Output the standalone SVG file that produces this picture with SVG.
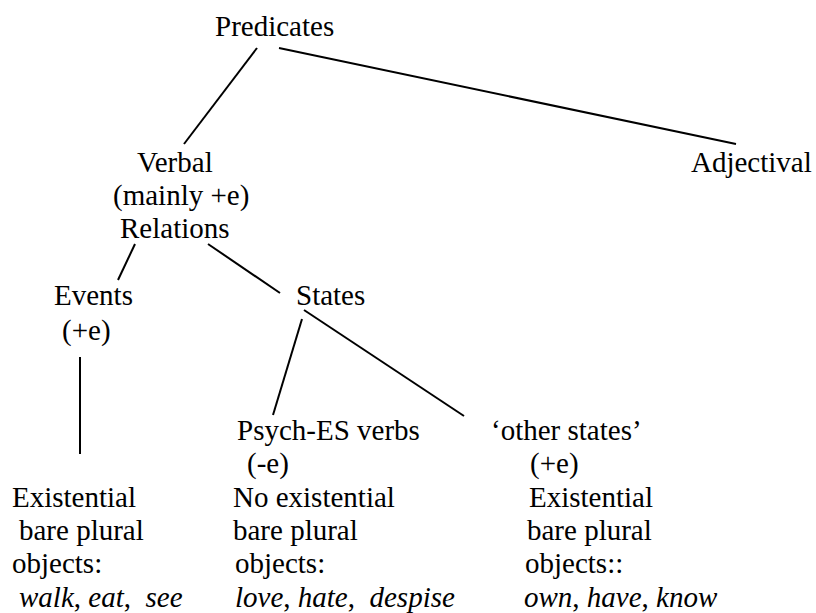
<svg xmlns="http://www.w3.org/2000/svg" width="816" height="613" viewBox="0 0 816 613">
<style>
text{font-family:"Liberation Serif","Tinos","Times New Roman","DejaVu Serif",serif;font-size:29px;fill:#000;white-space:pre}
.i{font-style:italic}
line{stroke:#000;stroke-width:2}
</style>
<rect width="816" height="613" fill="#fff"/>
<g id="connectors">
<line x1="257" y1="48" x2="184" y2="144"/>
<line x1="279" y1="48" x2="736" y2="144"/>
<line x1="135" y1="244" x2="118" y2="280"/>
<line x1="208" y1="244" x2="280" y2="293"/>
<line x1="80" y1="357" x2="80" y2="454"/>
<line x1="302" y1="319" x2="273" y2="415"/>
<line x1="304" y1="310" x2="464" y2="416"/>
</g>
<g id="predicates"><text x="215" y="36">Predicates</text></g>
<g id="verbal">
<text x="137" y="172">Verbal</text>
<text x="113" y="205">(mainly +e)</text>
<text x="120" y="238">Relations</text>
</g>
<g id="adjectival"><text x="691" y="172">Adjectival</text></g>
<g id="events">
<text x="54" y="305">Events</text>
<text x="62" y="340">(+e)</text>
</g>
<g id="states"><text x="296" y="305">States</text></g>
<g id="events-objects">
<text x="12" y="507">Existential</text>
<text x="19" y="540">bare plural</text>
<text x="12" y="573">objects:</text>
<text x="19" y="607"><tspan class="i">walk</tspan>, <tspan class="i">eat</tspan>,  <tspan class="i">see</tspan></text>
</g>
<g id="psych">
<text x="237" y="440">Psych-ES verbs</text>
<text x="247" y="473">(-e)</text>
<text x="233" y="507">No existential</text>
<text x="233" y="540">bare plural</text>
<text x="235" y="573">objects:</text>
<text x="235" y="607"><tspan class="i">love</tspan>, <tspan class="i">hate</tspan>,  <tspan class="i">despise</tspan></text>
</g>
<g id="other-states">
<text x="491" y="440">‘other states’</text>
<text x="530" y="473">(+e)</text>
<text x="529" y="507">Existential</text>
<text x="527" y="540">bare plural</text>
<text x="525" y="573">objects::</text>
<text x="524" y="607"><tspan class="i">own</tspan>, <tspan class="i">have</tspan>, <tspan class="i">know</tspan></text>
</g>
</svg>
